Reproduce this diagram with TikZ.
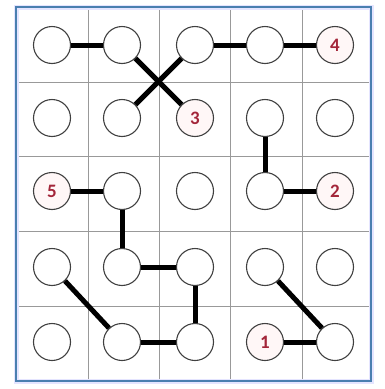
\documentclass[tikz,border=0pt]{standalone}
\usepackage{fontspec}
\setmainfont{Carlito}
\begin{document}
\begin{tikzpicture}[x=1pt,y=-1pt,
  dot/.style={circle,draw=black!75,line width=1.1pt,fill=white,minimum size=37pt,inner sep=0pt},
  num/.style={dot,fill=red!3,text=numred,font=\bfseries\fontsize{19}{19}\selectfont},
  link/.style={line width=5pt,black},
  grid/.style={black!40,line width=0.8pt}]
\definecolor{numred}{HTML}{A3263A}
\definecolor{frameblue}{HTML}{4A7FB0}
\useasboundingbox (0,0) rectangle (385,389);
\fill[white] (0,0) rectangle (385,389);
% grid
\foreach \x in {88,159,230,302} \draw[grid] (\x,7) -- (\x,381);
\foreach \y in {82,156,231,306} \draw[grid] (16,\y) -- (371,\y);
\draw[blue!10,line width=5pt] (16,7) rectangle (371,381);
\draw[frameblue,line width=2.5pt] (16,7) rectangle (371,381);
% circles
\def\cols{{0,52,122,195,265,335}}
\def\rows{{0,45,118,191,267,342}}
\foreach \r/\c in {1/1,1/2,1/3,1/4,2/1,2/2,2/4,2/5,3/2,3/3,3/4,4/1,4/2,4/3,4/4,4/5,5/1,5/2,5/3,5/5}{
  \pgfmathsetmacro\xx{\cols[\c]}
  \pgfmathsetmacro\yy{\rows[\r]}
  \node[dot] (n\r\c) at (\xx,\yy) {};
}
\node[num] (n15) at (335,45) {4};
\node[num] (n23) at (195,118) {3};
\node[num] (n31) at (52,191) {5};
\node[num] (n35) at (335,191) {2};
\node[num] (n54) at (265,342) {1};
% links
\draw[link] (n11) -- (n12);
\draw[link] (n12) -- (n23);
\draw[link] (n13) -- (n22);
\draw[link] (n13) -- (n14);
\draw[link] (n14) -- (n15);
\draw[link] (n24) -- (n34);
\draw[link] (n34) -- (n35);
\draw[link] (n31) -- (n32);
\draw[link] (n32) -- (n42);
\draw[link] (n42) -- (n43);
\draw[link] (n43) -- (n53);
\draw[link] (n53) -- (n52);
\draw[link] (n52) -- (n41);
\draw[link] (n44) -- (n55);
\draw[link] (n55) -- (n54);
\end{tikzpicture}
\end{document}
